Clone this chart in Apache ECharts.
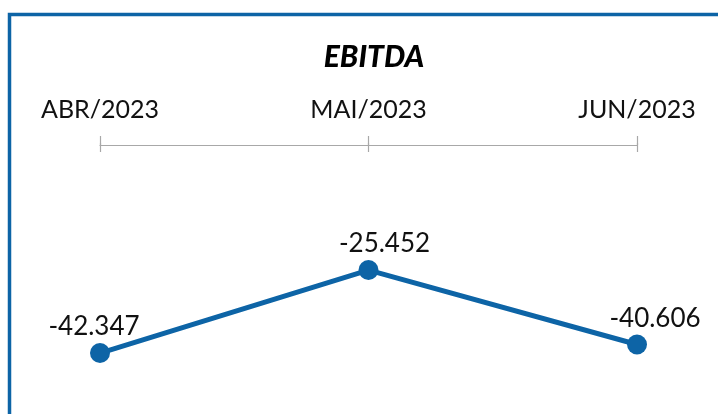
<!DOCTYPE html>
<html>
<head>
<meta charset="utf-8">
<script src="https://cdn.jsdelivr.net/npm/echarts@6/dist/echarts.min.js"></script>
<style>
  html, body { margin: 0; padding: 0; background: #fff; }
  #chart { width: 718px; height: 414px; }
</style>
</head>
<body>
<div id="chart"></div>
<script>
const months = ['ABR/2023', 'MAI/2023', 'JUN/2023']
const ebitda = [-42.347, -25.452, -40.606]
const labelOffsets = [[-6, 0], [16, 0], [18, 0]]

const blue = '#0d64a6'
const font = 'Lato, "Noto Sans", sans-serif'

const chart = echarts.init(document.getElementById('chart'))

const baseAxis = {
    type: 'category',
    position: 'top',
    boundaryGap: false,
    data: months,
    offset: 2,
    splitLine: { show: false }
}

chart.setOption({
    animation: false,
    title: {
        text: 'EBITDA',
        left: 369,
        top: 37,
        textAlign: 'center',
        textStyle: {
            fontFamily: font,
            fontSize: 30,
            fontWeight: 900,
            fontStyle: 'italic',
            color: '#000'
        }
    },
    graphic: [{
        type: 'rect',
        shape: { x: 9.5, y: 14.5, width: 900, height: 600 },
        style: { fill: 'none', stroke: blue, lineWidth: 3.5 },
        silent: true
    }],
    grid: { top: 145, bottom: 23.35, left: 100, right: 81 },
    xAxis: [
        Object.assign({}, baseAxis, {
            axisLine: { show: true, lineStyle: { color: '#a8a8a8', width: 1.2 } },
            axisTick: { show: true, length: 9, lineStyle: { color: '#a8a8a8', width: 1.2 } },
            axisLabel: {
                margin: 21,
                fontFamily: font,
                fontSize: 25,
                color: '#111'
            }
        }),
        Object.assign({}, baseAxis, {
            axisLine: { show: false },
            axisTick: { show: true, inside: true, length: 9, lineStyle: { color: '#a8a8a8', width: 1.2 } },
            axisLabel: { show: false }
        })
    ],
    yAxis: {
        type: 'value',
        min: -50,
        max: 0,
        show: false
    },
    series: [{
        type: 'line',
        xAxisIndex: 0,
        data: ebitda.map((v, i) => ({
            value: v,
            label: { offset: labelOffsets[i] }
        })),
        symbol: 'circle',
        symbolSize: 20,
        lineStyle: { color: blue, width: 5 },
        itemStyle: { color: blue },
        label: {
            show: true,
            position: 'top',
            distance: 3,
            fontFamily: font,
            fontSize: 26,
            color: '#111',
            formatter: p => p.value.toFixed(3)
        }
    }]
})
</script>
</body>
</html>
